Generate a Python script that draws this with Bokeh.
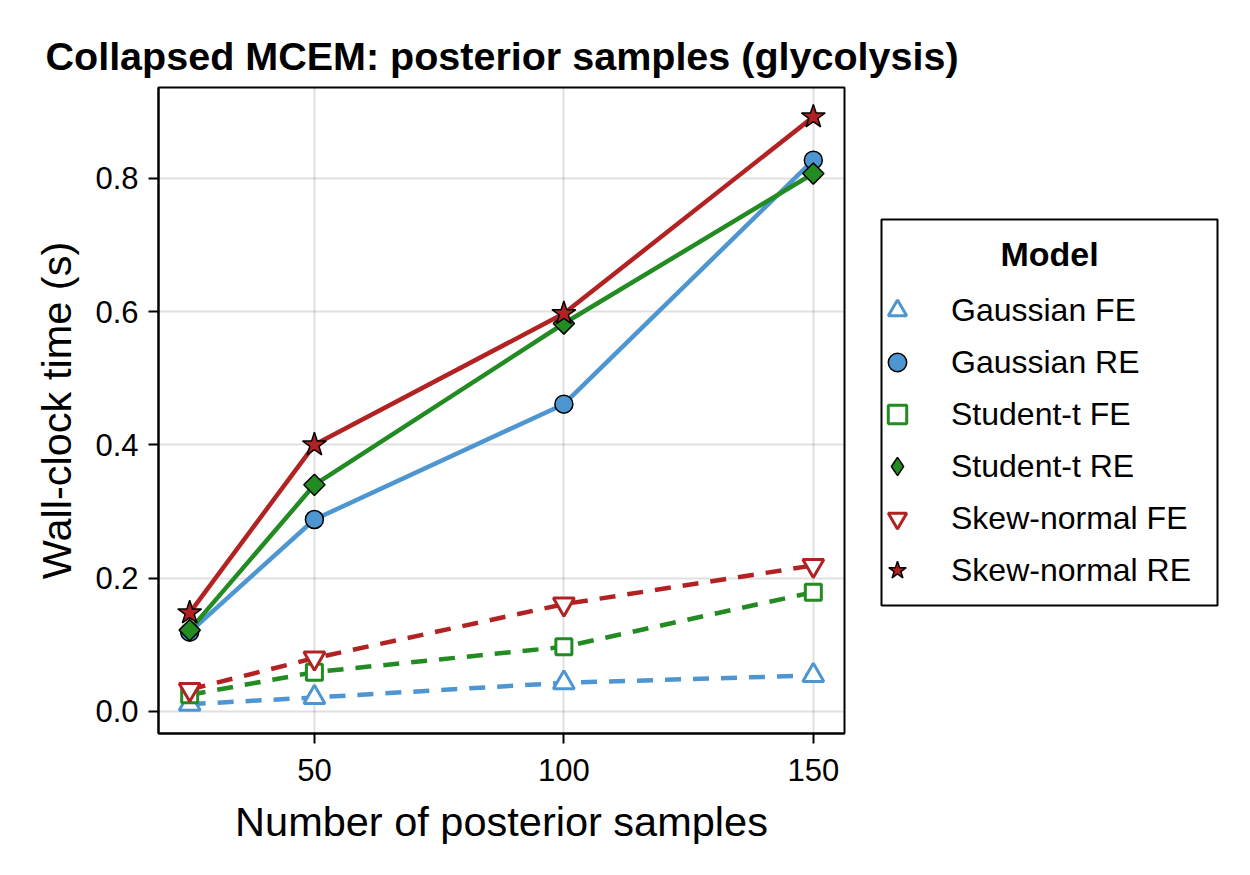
import numpy as np
from bokeh.plotting import figure
from bokeh.layouts import row, column
from bokeh.models import (Range1d, FixedTicker, Legend, LegendItem, Label,
                          PrintfTickFormatter, BoxAnnotation)
from bokeh.embed import file_html
from bokeh.resources import INLINE

# ---- data ----
samples = [25, 50, 100, 150]
gaussian_fe = [0.011, 0.021, 0.043, 0.054]
gaussian_re = [0.119, 0.288, 0.461, 0.827]
student_fe = [0.025, 0.059, 0.097, 0.179]
student_re = [0.122, 0.340, 0.582, 0.807]
skew_fe = [0.033, 0.080, 0.161, 0.219]
skew_re = [0.148, 0.400, 0.597, 0.892]
series_names = ["Gaussian FE", "Gaussian RE", "Student-t FE", "Student-t RE",
                "Skew-normal FE", "Skew-normal RE"]
legend_title = "Model"
title_text = "Collapsed MCEM: posterior samples (glycolysis)"
x_ticks = [50, 100, 150]
y_ticks = [0.0, 0.2, 0.4, 0.6, 0.8]

BLUE = "#4E96D2"
GREEN = "#228B22"
RED = "#B22222"
FONT = "Liberation Sans"

# ---- page layout (pixels) ----
W = 1250
TOP_H = 86          # title strip height
FRAME_L, FRAME_W, FRAME_H = 158, 686, 646
BORDER_B = 142
P_RIGHT = 2
BOX_L, BOX_R, BOX_T, BOX_B = 881, 1217, 219, 605
FRAME_T = TOP_H + 1

all_y = gaussian_fe + gaussian_re + student_fe + student_re + skew_fe + skew_re
xmin, xmax = min(samples), max(samples)
ymin, ymax = min(all_y), max(all_y)
xpad = 0.05 * (xmax - xmin)
ypad = 0.05 * (ymax - ymin)

# ---------------- title strip ----------------
tf = figure(frame_width=W - FRAME_L - P_RIGHT, frame_height=1,
            min_border_left=FRAME_L, min_border_right=P_RIGHT,
            min_border_top=TOP_H - 1, min_border_bottom=0,
            x_axis_location=None, y_axis_location=None,
            output_backend="svg", toolbar_location=None)
tf.grid.visible = False
tf.outline_line_color = None
tf.border_fill_color = "white"
tf.background_fill_color = "white"
tf.title.text = title_text
tf.title.text_font = FONT
tf.title.text_font_style = "bold"
tf.title.text_font_size = "39.5px"
tf.title.text_color = "black"
tf.title.align = "left"
tf.title.offset = -113
tf.title.standoff = 15

# ---------------- main plot ----------------
p = figure(frame_width=FRAME_W, frame_height=FRAME_H,
           x_range=Range1d(xmin - xpad, xmax + xpad),
           y_range=Range1d(ymin - ypad, ymax + ypad),
           min_border_left=FRAME_L, min_border_top=1,
           min_border_right=P_RIGHT, min_border_bottom=BORDER_B,
           output_backend="svg", toolbar_location=None)
p.background_fill_color = "white"
p.border_fill_color = "white"
p.outline_line_color = "black"
p.outline_line_width = 2

for ax in (p.xaxis[0], p.yaxis[0]):
    ax.axis_line_width = 2
    ax.major_tick_line_width = 2
    ax.major_tick_in = 0
    ax.major_tick_out = 10
    ax.minor_tick_line_color = None
    ax.major_label_text_font = FONT
    ax.major_label_text_font_size = "31px"
    ax.major_label_text_color = "black"
    ax.axis_label_text_font = FONT
    ax.axis_label_text_font_size = "41.5px"
    ax.axis_label_text_font_style = "normal"
    ax.axis_label_text_color = "black"

p.xaxis.ticker = FixedTicker(ticks=x_ticks)
p.yaxis.ticker = FixedTicker(ticks=y_ticks)
p.yaxis.formatter = PrintfTickFormatter(format="%.1f")
p.xaxis.axis_label = "Number of posterior samples"
p.yaxis.axis_label = "Wall-clock time (s)"
p.xaxis.major_label_standoff = 15
p.yaxis.major_label_standoff = 10
p.xaxis.axis_label_standoff = 14
p.yaxis.axis_label_standoff = 12

p.xgrid.ticker = FixedTicker(ticks=x_ticks)
p.ygrid.ticker = FixedTicker(ticks=y_ticks)
for g in (p.xgrid[0], p.ygrid[0]):
    g.grid_line_color = "black"
    g.grid_line_alpha = 0.12
    g.grid_line_width = 2

DASH = "16 12"
specs = [
    (gaussian_fe, BLUE, DASH, dict(marker="triangle", size=21, fill_color="white", line_color=BLUE, line_width=3)),
    (gaussian_re, BLUE, "solid", dict(marker="circle", size=18, fill_color=BLUE, line_color="black", line_width=1.5)),
    (student_fe, GREEN, DASH, dict(marker="square", size=16, fill_color="white", line_color=GREEN, line_width=3)),
    (student_re, GREEN, "solid", dict(marker="square", size=15, angle=np.pi / 4, fill_color=GREEN, line_color="black", line_width=1.5)),
    (skew_fe, RED, DASH, dict(marker="inverted_triangle", size=21, fill_color="white", line_color=RED, line_width=3)),
    (skew_re, RED, "solid", dict(marker="star", size=25, fill_color=RED, line_color="black", line_width=1.5)),
]

for name, (ys, color, dash, mk) in zip(series_names, specs):
    p.line(samples, ys, line_color=color, line_width=4.5, line_dash=dash)
    p.scatter(samples, ys, **mk)

# ---------------- legend panel ----------------
LG_W = W - (FRAME_L + FRAME_W + P_RIGHT)
LG_L = W - LG_W
# data coords of this panel: x = page_px - W, y = FRAME_T - page_py
lg = figure(frame_width=LG_W, frame_height=FRAME_H,
            x_range=Range1d(-LG_W, 0), y_range=Range1d(-FRAME_H, 0),
            min_border_left=0, min_border_right=0,
            min_border_top=1, min_border_bottom=BORDER_B,
            x_axis_location=None, y_axis_location=None,
            output_backend="svg", toolbar_location=None)
lg.grid.visible = False
lg.outline_line_color = None
lg.background_fill_color = "white"
lg.border_fill_color = "white"

lg.add_layout(BoxAnnotation(left=BOX_L - W, right=BOX_R - W,
                            top=FRAME_T - BOX_T, bottom=FRAME_T - BOX_B,
                            fill_color="white", fill_alpha=1.0,
                            line_color="black", line_width=2, line_alpha=1.0))

items = []
for name, (ys, color, dash, mk) in zip(series_names, specs):
    mk_leg = dict(mk)
    if "angle" in mk_leg:      # legend glyphs ignore angle: use a diamond there
        mk_leg.pop("angle")
        mk_leg["marker"] = "diamond"
    # same series, lying outside this panel's ranges: only the legend glyph shows
    r = lg.scatter(samples, ys, **mk_leg)
    items.append(LegendItem(label=name, renderers=[r]))

GLYPH_W, ROW_H = 46, 52
LEG_LEFT = BOX_L + 16 - GLYPH_W // 2
LABEL_X = BOX_L + 70
legend = Legend(items=items,
                location=(LEG_LEFT - LG_L, (FRAME_T + FRAME_H) - (BOX_B - 9)))
legend.margin = 0
legend.padding = 0
legend.glyph_width = GLYPH_W
legend.glyph_height = ROW_H
legend.label_height = ROW_H
legend.spacing = 0
legend.label_standoff = LABEL_X - (LEG_LEFT + GLYPH_W)
legend.label_text_font = FONT
legend.label_text_font_size = "32px"
legend.label_text_color = "black"
legend.border_line_color = None
legend.background_fill_alpha = 0
lg.add_layout(legend, "center")

lg.add_layout(Label(x=(BOX_L + BOX_R) / 2 - W, y=FRAME_T - 253, text=legend_title,
                    text_font=FONT, text_font_style="bold", text_font_size="34px",
                    text_align="center", text_baseline="middle", text_color="black"))

layout = column(tf, row(p, lg, spacing=0), spacing=0)
open("out.html", "w").write(file_html(layout, INLINE))
